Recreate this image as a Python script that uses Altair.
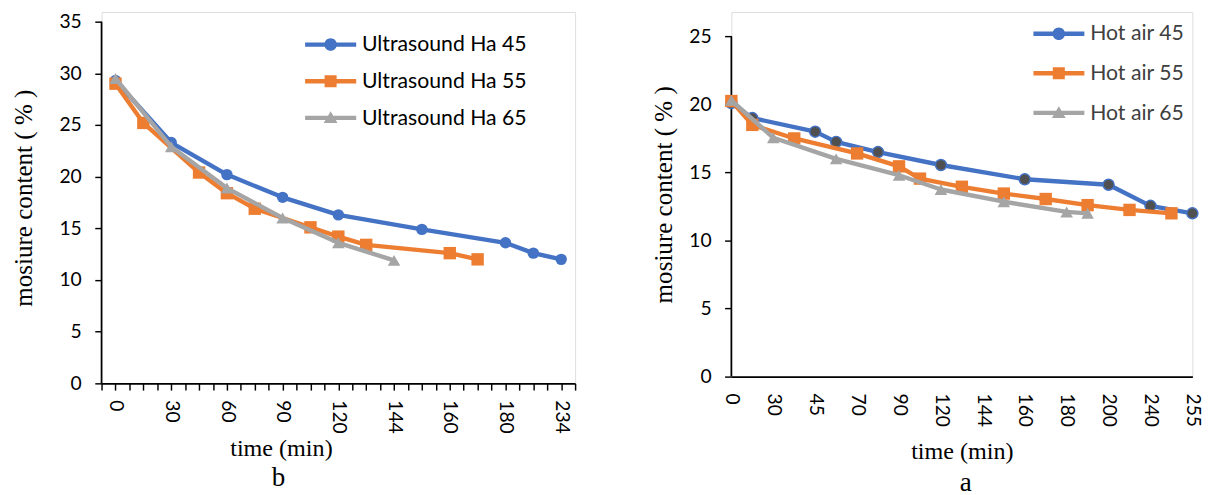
import altair as alt
import pandas as pd

BLUE, ORANGE, GRAY, DARK = "#4472C4", "#ED7D31", "#A5A5A5", "#505050"

# ---------------- panel b : ultrasound ----------------
us_series = ["Ultrasound Ha 45", "Ultrasound Ha 55", "Ultrasound Ha 65"]
us45_slot = [1, 5, 9, 13, 17, 23, 29, 31, 33]
us45_val = [29.3, 23.3, 20.2, 18.0, 16.3, 14.9, 13.6, 12.6, 12.0]
us55_slot = [1, 3, 7, 9, 11, 15, 17, 19, 25, 27]
us55_val = [29.0, 25.2, 20.4, 18.4, 16.9, 15.1, 14.2, 13.4, 12.6, 12.0]
us65_slot = [1, 5, 9, 13, 17, 21]
us65_val = [29.5, 22.9, 18.9, 16.0, 13.6, 11.9]
us_tick_labels = ["0", "30", "60", "90", "120", "144", "160", "180", "234"]
us_label_slots = [1, 5, 9, 13, 17, 21, 25, 29, 33]
us_n_slots = 34
us_y_ticks = [0, 5, 10, 15, 20, 25, 30, 35]

# ---------------- panel a : hot air ----------------
ha_series = ["Hot air 45", "Hot air 55", "Hot air 65"]
ha45_slot = [0, 1, 4, 5, 7, 10, 14, 18, 20, 22]
ha45_val = [20.1, 19.0, 18.0, 17.25, 16.5, 15.55, 14.5, 14.1, 12.55, 12.0]
ha55_slot = [0, 1, 3, 6, 8, 9, 11, 13, 15, 17, 19, 21]
ha55_val = [20.25, 18.5, 17.5, 16.4, 15.45, 14.55, 13.95, 13.45, 13.05, 12.6, 12.25, 12.0]
ha65_slot = [0, 2, 5, 8, 10, 13, 16, 17]
ha65_val = [20.3, 17.55, 16.0, 14.8, 13.75, 12.85, 12.1, 12.0]
ha_tick_labels = ["0", "30", "45", "70", "90", "120", "144", "160", "180", "200", "240", "255"]
ha_label_slots = [0, 2, 4, 6, 8, 10, 12, 14, 16, 18, 20, 22]
ha_n_slots = 22
ha_y_ticks = [0, 5, 10, 15, 20, 25]

line_colors = [BLUE, ORANGE, GRAY]

BAR = "M-1,-0.085H1V0.085H-1Z"
CIRCLE = "M-0.245,0A0.245,0.245,0,1,1,0.245,0A0.245,0.245,0,1,1,-0.245,0Z"
SQUARE = "M-0.235,-0.235H0.235V0.235H-0.235Z"
TRIANGLE = "M0,-0.26L0.27,0.2L-0.27,0.2Z"
legend_paths = [BAR + " " + CIRCLE, BAR + " " + SQUARE, BAR + " " + TRIANGLE]

TICK_FONT = "Lato"
TITLE_FONT = "Liberation Serif"
Y_TITLE = "mosiure content ( % )"


def make_df(series, slots, vals):
    rows = []
    for s, sl, vl in zip(series, slots, vals):
        for a, b in zip(sl, vl):
            rows.append({"series": s, "slot": a, "value": b})
    return pd.DataFrame(rows)


def lookup_expr(slots, labels):
    sl = "[" + ",".join(str(s) for s in slots) + "]"
    lb = "[" + ",".join("'" + l + "'" for l in labels) + "]"
    return f"indexof({sl}, datum.value) >= 0 ? {lb}[indexof({sl}, datum.value)] : ''"


def panel(df, series, marker_props, n_slots, x_values, x_expr, x_ticks, x_label_pad,
          x_title_x, x_title_y, ymax, y_ticks, y_title_x,
          legend_x, legend_y, legend_row, legend_label_color,
          width, height, caption, caption_dx, caption_offset):
    x_axis_kw = dict(
        values=x_values, labelExpr=x_expr, labelAngle=90, labelFont=TICK_FONT,
        labelFontSize=20, labelColor="black", labelPadding=x_label_pad,
        labelFlush=False, labelOverlap=False, ticks=x_ticks, tickSize=7,
        tickColor="black", tickWidth=1.5, domainColor="black", domainWidth=1.8,
        grid=False, title="time (min)", titleFont=TITLE_FONT, titleFontSize=25,
        titleFontWeight="normal", titleColor="black", titleY=x_title_y,
        titleBaseline="alphabetic",
    )
    if x_title_x is not None:
        x_axis_kw["titleX"] = x_title_x
        x_axis_kw["titleAlign"] = "center"
    x = alt.X("slot:Q", scale=alt.Scale(domain=[0, n_slots], nice=False, zero=False),
              axis=alt.Axis(**x_axis_kw))
    y = alt.Y("value:Q", scale=alt.Scale(domain=[0, ymax], nice=False, zero=True),
              axis=alt.Axis(values=y_ticks, labelFont=TICK_FONT, labelFontSize=20,
                            labelColor="black", labelPadding=14, tickSize=7,
                            tickColor="black", tickWidth=1.5, domain=False,
                            grid=False, title=Y_TITLE, titleFont=TITLE_FONT,
                            titleFontSize=26, titleFontWeight="normal",
                            titleColor="black", titleX=y_title_x,
                            titleBaseline="middle"))
    base = alt.Chart(df)
    layers = [
        alt.Chart(pd.DataFrame({"lo": [y_ticks[0]], "hi": [y_ticks[-1]]}))
        .mark_rule(color="black", strokeWidth=1.8)
        .encode(x=alt.value(0), y=alt.Y("lo:Q"), y2="hi:Q")
    ]
    for s, col, mp in zip(series, line_colors, marker_props):
        sub = base.transform_filter(alt.datum.series == s)
        layers.append(sub.mark_line(color=col, strokeWidth=4.5, strokeCap="round",
                                    strokeJoin="round").encode(x=x, y=y))
        layers.append(sub.mark_point(opacity=1, **mp).encode(x=x, y=y))
    leg = alt.Legend(title=None, orient="none", legendX=legend_x, legendY=legend_y,
                     direction="vertical", symbolSize=2809, symbolStrokeWidth=0,
                     clipHeight=legend_row, rowPadding=0, padding=0,
                     labelFont=TICK_FONT, labelFontSize=22,
                     labelColor=legend_label_color, labelOffset=6, labelLimit=400)
    layers.append(
        base.transform_filter("false").mark_point(filled=True, opacity=1).encode(
            x=x, y=y,
            color=alt.Color("series:N", scale=alt.Scale(domain=series, range=line_colors), legend=leg),
            shape=alt.Shape("series:N", scale=alt.Scale(domain=series, range=legend_paths), legend=leg),
        )
    )
    return alt.layer(*layers).properties(
        width=width, height=height,
        title=alt.TitleParams(caption, orient="bottom", font=TITLE_FONT, fontSize=28,
                              fontWeight="normal", color="black", anchor="middle",
                              frame="group", dx=caption_dx, offset=caption_offset,
                              baseline="alphabetic"),
    )


us_df = make_df(us_series, [us45_slot, us55_slot, us65_slot], [us45_val, us55_val, us65_val])
ha_df = make_df(ha_series, [ha45_slot, ha55_slot, ha65_slot], [ha45_val, ha55_val, ha65_val])

us_markers = [
    dict(shape="circle", filled=True, fill=BLUE, size=140),
    dict(shape="square", filled=True, fill=ORANGE, size=165),
    dict(shape="triangle-up", filled=True, fill=GRAY, size=170),
]
ha_markers = [
    dict(shape="circle", filled=True, fill=DARK, stroke=BLUE, strokeWidth=1.5, size=130),
    dict(shape="square", filled=True, fill=ORANGE, size=165),
    dict(shape="triangle-up", filled=True, fill=GRAY, size=170),
]

left = panel(us_df, us_series, us_markers, us_n_slots, list(range(us_n_slots + 1)),
             lookup_expr(us_label_slots, us_tick_labels), True, 10,
             186, 75, 35.93, us_y_ticks, -81,
             211, 15, 37.5, "black", 491, 385, "b", -62, 26)

right = panel(ha_df, ha_series, ha_markers, ha_n_slots, ha_label_slots,
              lookup_expr(ha_label_slots, ha_tick_labels), False, 17,
              None, 85, 26.79, ha_y_ticks, -70,
              313, 2, 41, "#404040", 478, 378, "a", 4, 29)

chart = (
    alt.hconcat(left, right, spacing=67)
    .resolve_scale(color="independent", shape="independent")
    .resolve_legend(color="independent", shape="independent")
    .properties(padding={"left": 2, "top": -6, "right": 0, "bottom": 0})
    .configure_view(stroke=None)
    .configure(background="white")
)

chart.save("out.html", embed_options={"renderer": "svg", "actions": False})
